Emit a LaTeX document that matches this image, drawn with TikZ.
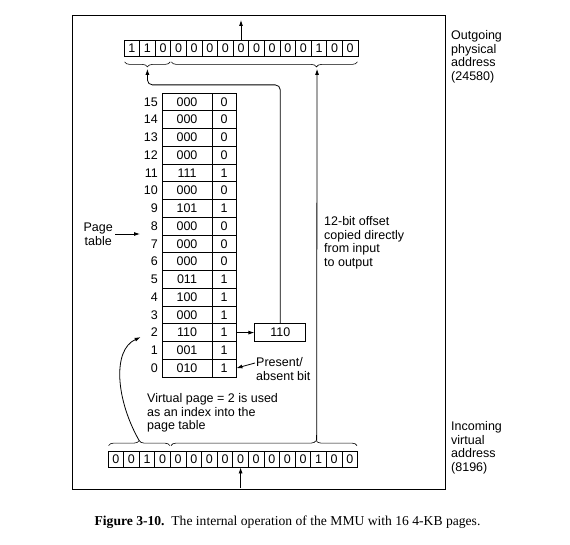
\documentclass[tikz,border=0pt]{standalone}
\usepackage{fontspec}
\setmainfont{Liberation Sans}
\newfontfamily\capfont{Liberation Serif}
\usetikzlibrary{arrows.meta,positioning,calc,decorations.pathreplacing}

\begin{document}
\begin{tikzpicture}[
  x=1pt, y=-1pt,
  font=\fontsize{12.5}{13.8}\selectfont,
  bit/.style={draw, line width=0.8pt, minimum width=15.6pt, minimum height=16pt, inner sep=0pt},
  frm/.style={draw, line width=0.8pt, minimum width=50pt, minimum height=17.75pt, inner sep=0pt},
  prs/.style={draw, line width=0.8pt, minimum width=24pt, minimum height=17.75pt, inner sep=0pt},
  txt/.style={align=left, inner sep=0pt, anchor=north west},
  arr/.style={-{Latex[length=6pt,width=4pt]}, line width=0.8pt},
  br/.style={decorate, decoration={brace, amplitude=5pt, #1}, line width=0.6pt},
  br/.default={aspect=0.5}
]
\useasboundingbox (0,0) rectangle (570,545);
\draw[line width=1pt] (72,16) rectangle (445,489);

\foreach \b [count=\i] in {1,1,0,0,0,0,0,0,0,0,0,0,1,0,0}
  \node[bit] (t\i) at ({116.2+15.6*\i}, 48.5) {\b};
\foreach \b [count=\i] in {0,0,1,0,0,0,0,0,0,0,0,0,0,1,0,0}
  \node[bit] (v\i) at ({100.2+15.6*\i}, 459) {\b};

\draw[br] ($(t3.south east)+(-1,5)$) -- ($(t1.south west)+(1,5)$);
\draw[br={aspect=0.22}] ($(t15.south east)+(-1,5)$) -- ($(t4.south west)+(1,5)$);
\draw[br] ($(v1.north west)+(1,-5)$) -- ($(v4.north east)+(-1,-5)$);
\draw[br={aspect=0.78}] ($(v5.north west)+(1,-5)$) -- ($(v16.north east)+(-1,-5)$);
\coordinate (pp) at ($(t1.south west)!0.5!(t3.south east)+(0,12)$);
\coordinate (po) at ($(t4.south west)!0.78!(t15.south east)+(0,12)$);
\coordinate (vp) at ($(v1.north west)!0.5!(v4.north east)+(0,-10)$);
\coordinate (vo) at ($(v5.north west)!0.78!(v16.north east)+(0,-10)$);

\coordinate (otop) at (t8.north |- 0,20);
\coordinate (ibot) at (v9.south |- 0,488);
\draw[arr] (t8.north) -- (otop);
\draw[arr] (ibot) -- (v9.south);

\foreach \fr/\pr [count=\i from 0] in {010/1,001/1,110/1,000/1,100/1,011/1,000/0,000/0,
    000/0,101/1,000/0,111/1,000/0,000/0,000/0,000/0}{
  \node[frm] (f\i) at (187, {368.1-17.75*\i}) {\fr};
  \node[prs] (b\i) at (224, {368.1-17.75*\i}) {\pr};
  \node[anchor=east, inner sep=0pt] (l\i) at (158, {368.1-17.75*\i}) {\i};
}

\node[draw, line width=0.8pt, minimum width=51pt, minimum height=18pt, inner sep=0pt,
  right=18pt of b2] (out) {110};
\draw[arr] (b2) -- (out);
\draw[arr, rounded corners=5pt] (out.north) |- ($(pp)+(0,16)$) -- (pp);
\draw[arr] (vo) -- (po);
\draw[arr] (vp) .. controls (116,400) and (112,350) .. ($(l2.south west)+(-10,0)$);

\node[align=center, inner sep=2pt, anchor=east] (ptl) at (115,234) {Page\\table};
\coordinate[right=25pt of ptl] (ptt);
\draw[arr] (ptl) -- (ptt);

\node[txt] (pab) at (256,357) {Present/\\absent bit};
\draw[arr] ($(pab.north west)+(-1,6)$) -- (b0.east);

\node[txt] (vpt) at (147,393) {Virtual page = 2 is used\\as an index into the\\page table};
\node[txt] (off) at (324,216) {12-bit offset\\copied directly\\from input\\to output};
\node[txt] (outl) at (451,30) {Outgoing\\physical\\address\\(24580)};
\node[txt] (inl) at (451,421) {Incoming\\virtual\\address\\(8196)};

\node[font=\capfont\fontsize{13.6}{16}\selectfont] (cap) at (287.5,522)
  {\textbf{Figure 3-10.}\ \ The internal operation of the MMU with 16 4-KB pages.};
\end{tikzpicture}
\end{document}
